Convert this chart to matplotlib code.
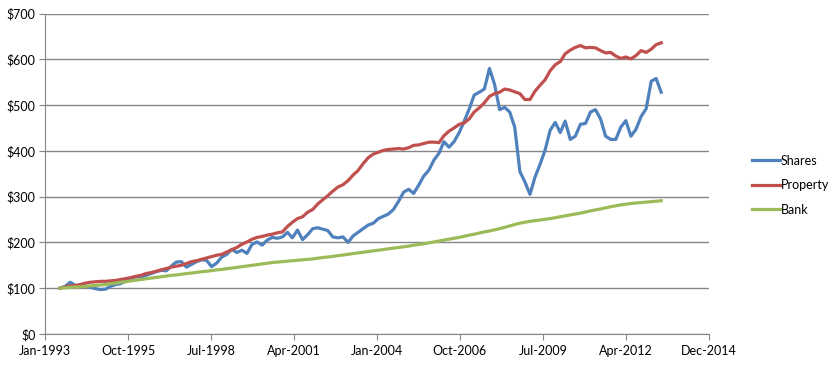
import numpy as np
import pandas as pd
import matplotlib
matplotlib.use("Agg")
import matplotlib.pyplot as plt
import matplotlib.dates as mdates

# bi-monthly observations, Jul-1993 .. May-2013
dates = pd.date_range("1993-07-01", periods=120, freq="2MS")

shares = [100, 104, 113, 106, 103, 104, 102, 99, 97, 98,
          104, 108, 110, 116, 122, 125, 124, 128, 132, 136,
          139, 138, 148, 157, 158, 146, 152, 158, 162, 161,
          147, 155, 168, 174, 185, 178, 183, 176, 196, 201,
          194, 205, 211, 209, 212, 222, 210, 227, 206, 217,
          230, 232, 229, 226, 212, 210, 212, 200, 214, 222,
          230, 238, 242, 252, 257, 262, 272, 290, 310, 316,
          307, 325, 345, 358, 380, 395, 420, 408, 420, 440,
          465, 492, 522, 528, 535, 580, 545, 490, 495, 485,
          452, 355, 332, 305, 342, 370, 401, 445, 462, 440,
          465, 425, 432, 458, 460, 485, 490, 470, 432, 425,
          425, 452, 466, 432, 447, 475, 492, 552, 558, 528]

prop = [100, 103, 105, 106, 108, 111, 113, 114, 115, 115,
        116, 117, 119, 121, 123, 126, 128, 132, 134, 137,
        140, 143, 146, 148, 150, 154, 158, 160, 163, 166,
        169, 172, 174, 179, 184, 189, 196, 201, 207, 211,
        213, 216, 218, 221, 223, 235, 244, 252, 256, 266,
        272, 284, 293, 302, 312, 321, 326, 335, 347, 357,
        372, 385, 393, 397, 401, 403, 404, 405, 404, 407,
        412, 413, 416, 419, 419, 418, 433, 443, 450, 458,
        461, 470, 485, 494, 505, 519, 525, 528, 535, 533,
        529, 525, 512, 512, 530, 543, 555, 575, 588, 595,
        612, 620, 626, 630, 625, 626, 625, 619, 614, 615,
        607, 602, 605, 601, 608, 619, 615, 622, 632, 636]

bank = [100, 101, 102, 102.5, 103, 104, 105, 106, 107, 108,
        110, 111, 113, 114, 116, 117.5, 119, 120.5, 122, 123.5,
        125, 126.5, 128, 129, 130.5, 132, 133, 134.5, 136, 137,
        138.5, 140, 141, 142.5, 144, 145.5, 147, 148.5, 150, 151.5,
        153, 154.5, 156, 157, 158, 159, 160, 161, 162, 163,
        164, 165.5, 167, 168, 169.5, 171, 172.5, 174, 175.5, 177,
        178.5, 180, 181.5, 183, 184.5, 186, 187.5, 189, 190.5, 192,
        194, 195.5, 197, 199, 201, 203, 205, 207, 209, 211,
        213.5, 216, 218, 220.5, 223, 225, 227.5, 230, 233, 236,
        239, 242, 244, 246, 247.5, 249, 250.5, 252, 254, 256,
        258, 260, 262, 264, 266.5, 269, 271, 273, 275.5, 278,
        280, 282, 283.5, 285, 286, 287, 288, 289, 290, 291]

x_labels = ["Jan-1993", "Oct-1995", "Jul-1998", "Apr-2001", "Jan-2004",
            "Oct-2006", "Jul-2009", "Apr-2012", "Dec-2014"]
y_ticks = [0, 100, 200, 300, 400, 500, 600, 700]

plt.rcParams["font.family"] = ["Lato", "DejaVu Sans"]

fig = plt.figure(figsize=(8.34, 3.65), dpi=100)
ax = fig.add_axes([0.054, 0.085, 0.796, 0.878])

ax.plot(dates, shares, color="#4F81BD", lw=2.3, label="Shares", solid_joinstyle="round")
ax.plot(dates, prop, color="#C0504D", lw=2.3, label="Property", solid_joinstyle="round")
ax.plot(dates, bank, color="#9BBB59", lw=2.3, label="Bank", solid_joinstyle="round")

start = pd.Timestamp("1993-01-01")
tick_pos = [mdates.date2num(start + pd.Timedelta(days=1000 * k)) for k in range(len(x_labels))]
ax.set_xlim(tick_pos[0], tick_pos[-1])
ax.set_xticks(tick_pos)
ax.set_xticklabels(x_labels)
ax.set_ylim(0, 700)
ax.set_yticks(y_ticks)
ax.set_yticklabels(["$%d" % v for v in y_ticks])

ax.grid(axis="y", color="#868686", lw=1)
ax.set_axisbelow(True)
for s in ["top", "right"]:
    ax.spines[s].set_visible(False)
for s in ["left", "bottom"]:
    ax.spines[s].set_color("#868686")
ax.tick_params(axis="both", color="#868686", length=4, labelsize=9, labelcolor="black")
ax.tick_params(axis="x", pad=4)
ax.tick_params(axis="y", pad=3)

fig.legend(loc="center left", bbox_to_anchor=(0.902, 0.493), frameon=False,
           fontsize=9, handlelength=2.2, handletextpad=0.1, labelspacing=1.0,
           borderpad=0, borderaxespad=0)

fig.savefig("out.png", dpi=100)
